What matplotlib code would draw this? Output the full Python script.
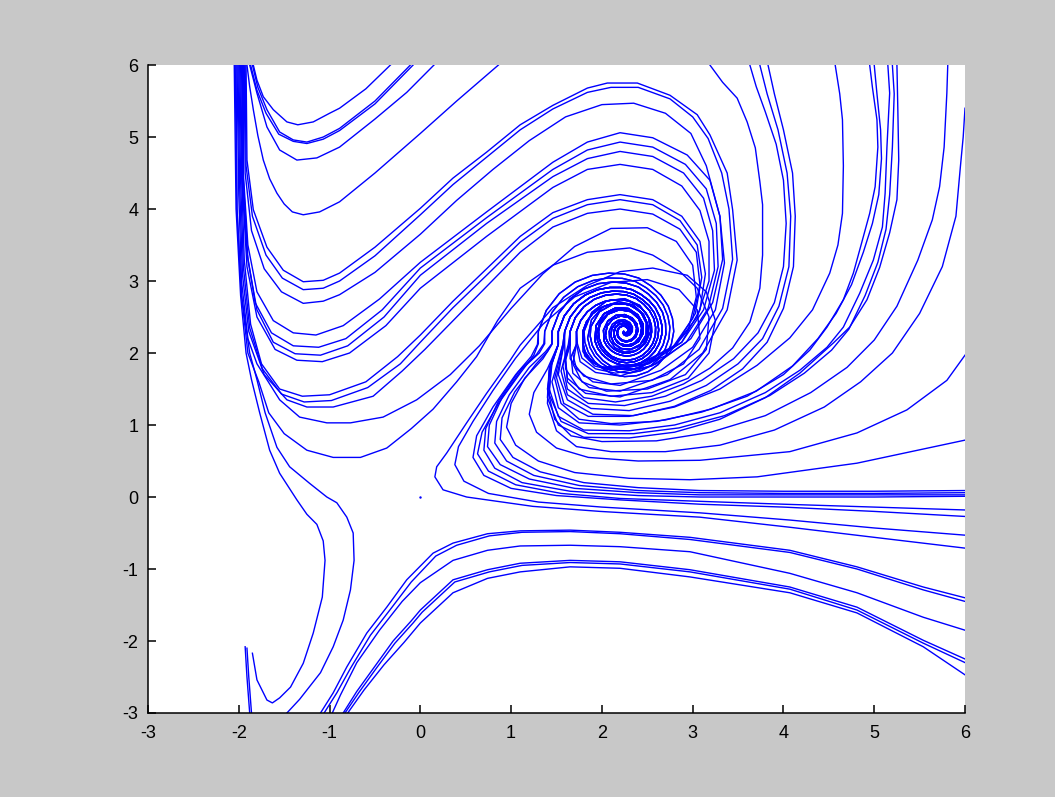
import numpy as np
import matplotlib.pyplot as plt

plt.rcParams['axes.unicode_minus'] = False

# ---- inner part of the spiral (focus near (2.25, 2.3)), read as radius vs angle ----
spiral_center = (2.25, 2.3)
screen_aspect = 90.8 / 72          # pixels per y unit vs x unit in the figure
spiral_angles = [180,165,150,135,120,105,90,75,60,45,30,15,0,-15,-30,-45,-60,-75,-90,-105,-120,-135,-150,-165,-180,
                 -210,-240,-270,-300,-330,-360,-390,-420,-450,-480,-510,-540,-570,-600,-630,-660,-690,-720,-750,-780,-810,-840,-870]
spiral_shape = [1.0,.94,.875,.81,.75,.70,.665,.64,.61,.595,.585,.575,.57,.562,.555,.547,.54,.532,.524,.515,.50,.492,.485,.478,.47,
                .44,.41,.38,.35,.32,.3,.28,.26,.24,.22,.2,.18,.165,.15,.135,.12,.105,.09,.075,.06,.045,.03,.015]
# join radius on the left side of the spiral -> twist of the inner turns (degrees)
spiral_twist = {0.95: 0, 0.88: 20, 0.80: -15, 0.73: 35, 0.66: 10, 0.60: -30, 0.53: 50, 0.46: 25}

# curves that come down the band at x~-2, dip, and leave through the top edge
top_exit = [
    [(-1.84,6.0),(-1.8,5.79),(-1.73,5.56),(-1.62,5.38),(-1.47,5.21),(-1.35,5.17),(-1.18,5.21),(-1.0,5.33),(-0.89,5.4),(-0.6,5.67),(-0.33,6.0)],
    [(-1.85,6.0),(-1.79,5.69),(-1.69,5.38),(-1.55,5.07),(-1.4,4.96),(-1.25,4.93),(-1.07,5.0),(-0.89,5.12),(-0.5,5.5),(-0.11,6.0)],
    [(-1.87,6.0),(-1.8,5.65),(-1.7,5.33),(-1.56,5.04),(-1.4,4.94),(-1.25,4.91),(-1.07,4.97),(-0.89,5.09),(-0.5,5.46),(-0.08,6.0)],
    [(-1.88,6.0),(-1.8,5.61),(-1.69,5.14),(-1.55,4.82),(-1.36,4.68),(-1.14,4.71),(-0.89,4.86),(-0.5,5.25),(-0.15,5.62),(0.15,6.0)],
    [(-1.91,6.0),(-1.88,5.7),(-1.84,5.38),(-1.79,5.02),(-1.73,4.68),(-1.66,4.42),(-1.58,4.22),(-1.5,4.07),(-1.41,3.96),(-1.29,3.92),(-1.11,3.96),(-0.89,4.1),(-0.5,4.5),(0.0,5.05),(0.4,5.5),(0.86,6.0)],
]

# curves from the band that climb into the spiral: (outer part, join radius)
left_curves = [
    ([(-1.92,6.0),(-1.91,4.68),(-1.84,3.99),(-1.69,3.47),(-1.51,3.15),(-1.29,2.99),(-1.07,3.01),(-0.89,3.11),(-0.5,3.47),(0.0,4.01),(0.36,4.43),(0.73,4.79),(1.1,5.17),(1.46,5.44),(1.84,5.68),(2.06,5.75),(2.39,5.75),(2.75,5.58),(3.05,5.31),(3.19,5.03),(3.38,4.5),(3.44,3.99),(3.49,3.29),(3.38,2.6),(3.11,2.0),(2.75,1.63),(2.2,1.39),(1.82,1.44),(1.62,1.65),(1.6,1.92),(1.65,2.12)], 0.60),
    ([(-1.93,6.0),(-1.92,4.6),(-1.85,3.9),(-1.7,3.36),(-1.52,3.04),(-1.29,2.88),(-1.07,2.9),(-0.89,3.0),(-0.5,3.35),(0.0,3.92),(0.36,4.34),(0.73,4.72),(1.1,5.1),(1.46,5.39),(1.84,5.62),(2.1,5.69),(2.4,5.69),(2.75,5.53),(3.0,5.28),(3.17,4.98),(3.32,4.5),(3.4,4.0),(3.44,3.3),(3.33,2.62),(3.07,2.05),(2.72,1.7),(2.2,1.47),(1.86,1.52),(1.68,1.72),(1.66,1.95),(1.72,2.12)], 0.53),
    ([(-1.94,6.0),(-1.93,4.5),(-1.86,3.7),(-1.72,3.17),(-1.53,2.85),(-1.29,2.69),(-1.07,2.72),(-0.89,2.81),(-0.5,3.12),(0.0,3.65),(0.4,4.12),(0.8,4.55),(1.2,4.95),(1.6,5.28),(2.0,5.45),(2.35,5.47),(2.7,5.33),(2.98,5.05),(3.15,4.6),(3.3,3.9),(3.35,3.25),(3.25,2.6),(3.0,2.08),(2.65,1.76),(2.2,1.55),(1.9,1.6),(1.72,1.78),(1.68,1.98),(1.72,2.13)], 0.53),
    ([(-1.95,6.0),(-1.95,4.5),(-1.9,3.5),(-1.8,2.85),(-1.62,2.45),(-1.4,2.28),(-1.15,2.25),(-0.85,2.38),(-0.45,2.75),(0.0,3.26),(0.73,3.96),(1.46,4.65),(1.84,4.93),(2.2,5.06),(2.56,4.99),(2.94,4.75),(3.19,4.4),(3.3,3.9),(3.33,3.3),(3.22,2.7),(2.98,2.2),(2.6,1.85),(2.2,1.68),(1.93,1.73),(1.76,1.88),(1.72,2.13)], 0.53),
    ([(-1.96,6.0),(-1.96,4.4),(-1.91,3.4),(-1.82,2.7),(-1.64,2.28),(-1.4,2.1),(-1.12,2.08),(-0.82,2.2),(-0.42,2.6),(0.0,3.18),(0.73,3.88),(1.46,4.55),(1.84,4.82),(2.2,4.93),(2.56,4.86),(2.92,4.62),(3.15,4.28),(3.26,3.8),(3.28,3.2),(3.17,2.62),(2.93,2.15),(2.55,1.82),(2.15,1.72),(1.93,1.78),(1.78,1.93),(1.73,2.13)], 0.53),
    ([(-1.97,6.0),(-1.95,4.4),(-1.9,3.3),(-1.8,2.6),(-1.62,2.15),(-1.38,1.99),(-1.1,1.97),(-0.8,2.1),(-0.4,2.5),(0.0,3.08),(0.73,3.8),(1.46,4.45),(1.84,4.7),(2.2,4.8),(2.56,4.73),(2.9,4.5),(3.12,4.15),(3.22,3.7),(3.24,3.15),(3.12,2.6),(2.88,2.15),(2.5,1.85),(2.1,1.76),(1.92,1.82),(1.81,1.96),(1.79,2.14)], 0.46),
    ([(-1.98,6.0),(-1.96,4.3),(-1.91,3.2),(-1.8,2.5),(-1.6,2.05),(-1.36,1.9),(-1.08,1.88),(-0.78,2.0),(-0.38,2.38),(0.0,2.9),(0.73,3.62),(1.46,4.3),(1.84,4.55),(2.2,4.62),(2.56,4.55),(2.88,4.32),(3.08,3.98),(3.18,3.55),(3.18,3.0),(3.05,2.5),(2.8,2.1),(2.42,1.85),(2.0,1.8),(1.86,1.9),(1.79,2.02),(1.79,2.15)], 0.46),
    ([(-1.99,6.0),(-1.97,4.5),(-1.94,3.3),(-1.87,2.4),(-1.75,1.85),(-1.55,1.5),(-1.3,1.4),(-1.0,1.42),(-0.6,1.6),(-0.25,1.95),(0.0,2.25),(0.36,2.72),(0.73,3.17),(1.1,3.62),(1.46,3.95),(1.84,4.13),(2.2,4.2),(2.56,4.13),(2.88,3.9),(3.08,3.55),(3.14,3.1),(3.08,2.6),(2.88,2.15),(2.52,1.85),(2.1,1.76),(1.92,1.85),(1.82,1.98),(1.79,2.15)], 0.46),
    ([(-2.0,6.0),(-1.98,4.4),(-1.95,3.2),(-1.88,2.35),(-1.74,1.78),(-1.53,1.43),(-1.28,1.32),(-0.98,1.34),(-0.58,1.52),(-0.22,1.85),(0.0,2.15),(0.36,2.63),(0.73,3.08),(1.1,3.54),(1.46,3.87),(1.84,4.06),(2.2,4.13),(2.56,4.06),(2.86,3.84),(3.05,3.5),(3.1,3.05),(3.03,2.55),(2.82,2.12),(2.45,1.84),(2.05,1.78),(1.9,1.87),(1.82,2.0),(1.79,2.15)], 0.46),
    ([(-2.01,6.0),(-1.99,4.3),(-1.96,3.1),(-1.89,2.3),(-1.72,1.7),(-1.47,1.35),(-1.25,1.25),(-0.96,1.25),(-0.52,1.4),(-0.2,1.75),(0.05,2.05),(0.4,2.5),(0.75,2.95),(1.1,3.4),(1.46,3.75),(1.84,3.94),(2.2,4.0),(2.56,3.93),(2.86,3.72),(3.04,3.4),(3.08,2.95),(3.0,2.48),(2.78,2.08),(2.4,1.83),(2.0,1.8),(1.88,1.9),(1.81,2.02),(1.79,2.15)], 0.46),
    ([(-2.02,6.0),(-2.0,4.2),(-1.97,3.0),(-1.9,2.2),(-1.8,1.85),(-1.69,1.63),(-1.55,1.35),(-1.33,1.11),(-1.03,1.03),(-0.77,1.03),(-0.41,1.11),(-0.04,1.35),(0.33,1.7),(0.65,2.1),(1.0,2.62),(1.35,3.1),(1.7,3.48),(2.1,3.73),(2.5,3.74),(2.82,3.55),(3.0,3.22),(3.04,2.78),(2.95,2.32),(2.72,1.97),(2.36,1.78),(2.0,1.8),(1.87,1.92),(1.8,2.05),(1.79,2.15)], 0.46),
    ([(-2.03,6.0),(-2.02,4.0),(-1.97,2.8),(-1.9,2.0),(-1.78,1.6),(-1.67,1.17),(-1.5,0.88),(-1.25,0.65),(-0.96,0.55),(-0.66,0.55),(-0.37,0.68),(-0.1,0.95),(0.14,1.22),(0.4,1.6),(0.62,1.95),(0.85,2.45),(1.1,2.9),(1.46,3.22),(1.84,3.4),(2.31,3.46),(2.56,3.36),(2.86,3.13),(3.05,2.9),(3.18,2.5),(3.15,2.05),(2.92,1.7),(2.5,1.5),(2.05,1.47),(1.78,1.6),(1.68,1.85),(1.72,2.12)], 0.53),
]

# curves that enter from the top/right edge and sweep down into the spiral
right_curves = [
    ([(3.19,6.0),(3.33,5.76),(3.49,5.54),(3.6,5.21),(3.69,4.85),(3.74,4.38),(3.77,4.06),(3.77,3.36),(3.74,2.9),(3.63,2.43),(3.44,2.07),(3.19,1.79),(2.9,1.57),(2.55,1.4),(2.15,1.32),(1.8,1.38),(1.62,1.6),(1.6,1.9),(1.65,2.12)], 0.60),
    ([(3.63,6.0),(3.7,5.7),(3.8,5.35),(3.92,4.9),(4.0,4.4),(4.03,3.8),(4.0,3.2),(3.9,2.7),(3.72,2.28),(3.45,1.92),(3.1,1.62),(2.7,1.4),(2.25,1.27),(1.85,1.3),(1.62,1.5),(1.57,1.82),(1.64,2.12)], 0.60),
    ([(3.74,6.0),(3.82,5.6),(3.94,5.1),(4.04,4.5),(4.08,3.9),(4.06,3.2),(3.95,2.65),(3.77,2.2),(3.5,1.85),(3.15,1.55),(2.75,1.33),(2.3,1.2),(1.88,1.23),(1.62,1.42),(1.55,1.75),(1.63,2.12)], 0.60),
    ([(3.83,6.0),(3.9,5.6),(4.0,5.1),(4.1,4.5),(4.13,3.9),(4.11,3.2),(4.0,2.62),(3.82,2.15),(3.55,1.78),(3.2,1.48),(2.8,1.26),(2.35,1.13),(1.9,1.15),(1.62,1.35),(1.52,1.7),(1.58,2.12)], 0.66),
    ([(4.57,6.0),(4.62,5.6),(4.65,5.24),(4.66,4.6),(4.65,3.94),(4.6,3.5),(4.51,3.11),(4.32,2.6),(4.07,2.21),(3.71,1.83),(3.3,1.5),(2.8,1.25),(2.3,1.12),(1.85,1.12),(1.58,1.3),(1.5,1.66),(1.58,2.12)], 0.66),
    ([(4.95,6.0),(4.98,5.69),(5.03,5.24),(5.04,4.86),(5.01,4.31),(4.95,3.94),(4.87,3.57),(4.77,3.11),(4.66,2.74),(4.48,2.36),(4.29,2.04),(4.0,1.7),(3.6,1.4),(3.1,1.18),(2.6,1.05),(2.1,1.02),(1.75,1.08),(1.55,1.3),(1.48,1.65),(1.57,2.12)], 0.66),
    ([(5.0,6.0),(5.03,5.6),(5.07,5.1),(5.08,4.7),(5.05,4.2),(4.98,3.8),(4.88,3.4),(4.75,2.95),(4.58,2.55),(4.38,2.2),(4.1,1.82),(3.7,1.47),(3.2,1.22),(2.7,1.07),(2.2,1.0),(1.75,1.03),(1.52,1.24),(1.45,1.6),(1.57,2.12)], 0.66),
    ([(5.15,6.0),(5.17,5.61),(5.14,4.86),(5.12,4.22),(5.09,3.75),(4.99,3.29),(4.84,2.83),(4.66,2.36),(4.48,2.08),(4.18,1.76),(3.8,1.45),(3.3,1.17),(2.8,1.0),(2.3,0.92),(1.8,0.93),(1.52,1.12),(1.42,1.5),(1.45,1.85),(1.52,2.12)], 0.73),
    ([(5.2,6.0),(5.22,5.6),(5.2,4.86),(5.17,4.2),(5.13,3.72),(5.04,3.26),(4.9,2.8),(4.72,2.33),(4.53,2.04),(4.23,1.72),(3.85,1.41),(3.35,1.13),(2.85,0.96),(2.35,0.88),(1.85,0.88),(1.55,1.05),(1.42,1.42),(1.44,1.82),(1.52,2.12)], 0.73),
    ([(5.25,6.0),(5.26,5.38),(5.27,4.68),(5.25,4.13),(5.17,3.67),(5.06,3.19),(4.92,2.74),(4.73,2.36),(4.55,2.14),(4.18,1.72),(3.8,1.38),(3.3,1.08),(2.8,0.9),(2.3,0.82),(1.8,0.83),(1.52,1.0),(1.4,1.38),(1.42,1.8),(1.52,2.12)], 0.73),
    ([(5.81,6.0),(5.8,5.61),(5.77,4.86),(5.72,4.31),(5.64,3.85),(5.48,3.29),(5.25,2.65),(5.0,2.18),(4.7,1.8),(4.3,1.45),(3.8,1.13),(3.2,0.9),(2.6,0.78),(2.0,0.77),(1.66,0.85),(1.48,1.08),(1.4,1.5),(1.44,1.85),(1.52,2.12)], 0.73),
    ([(6.0,5.4),(5.98,5.0),(5.95,4.6),(5.9,3.9),(5.75,3.2),(5.5,2.55),(5.2,2.0),(4.85,1.6),(4.45,1.25),(3.9,0.93),(3.3,0.72),(2.7,0.63),(2.1,0.63),(1.72,0.7),(1.5,0.92),(1.4,1.3),(1.42,1.75),(1.52,2.12)], 0.73),
]

# curves along the x axis that turn near the saddle and run up into the spiral
axis_curves = [
    ([(6.0,-0.71),(5.0,-0.56),(4.07,-0.42),(3.08,-0.28),(1.98,-0.2),(1.24,-0.13),(0.51,0.0),(0.25,0.1),(0.16,0.28),(0.18,0.42),(0.29,0.61),(0.51,1.03),(0.73,1.44),(0.99,1.9),(1.1,2.11),(1.46,2.63),(1.84,2.94),(2.2,3.13),(2.56,3.18),(2.94,3.08),(3.15,2.85),(3.25,2.45),(3.18,2.0),(2.95,1.65),(2.55,1.45),(2.1,1.4),(1.75,1.5),(1.6,1.78),(1.59,2.12)], 0.66),
    ([(6.0,-0.53),(5.0,-0.43),(4.07,-0.32),(3.08,-0.22),(2.0,-0.14),(1.3,-0.07),(0.75,0.05),(0.48,0.22),(0.38,0.45),(0.42,0.7),(0.58,1.05),(0.8,1.48),(1.05,1.93),(1.35,2.4),(1.7,2.78),(2.1,2.98),(2.5,3.02),(2.85,2.88),(3.05,2.6),(3.08,2.2),(2.9,1.85),(2.55,1.62),(2.1,1.57),(1.8,1.68),(1.65,1.92),(1.65,2.14)], 0.60),
    ([(6.0,-0.27),(5.0,-0.2),(4.0,-0.14),(3.08,-0.1),(2.2,-0.04),(1.5,0.02),(1.0,0.12),(0.7,0.3),(0.58,0.55),(0.62,0.85),(0.8,1.25),(1.05,1.7),(1.22,1.95),(1.29,2.12)], 0.95),
    ([(6.0,-0.18),(5.0,-0.14),(4.0,-0.1),(3.08,-0.06),(2.2,-0.02),(1.55,0.05),(1.05,0.17),(0.75,0.36),(0.63,0.6),(0.68,0.9),(0.86,1.3),(1.1,1.72),(1.25,1.97),(1.3,2.13)], 0.95),
    ([(6.0,0.01),(5.0,0.0),(4.0,0.0),(3.08,0.0),(2.4,0.02),(1.65,0.08),(1.12,0.2),(0.82,0.4),(0.7,0.65),(0.72,0.95),(0.86,1.33),(1.08,1.74),(1.28,1.98),(1.36,2.13)], 0.88),
    ([(6.0,0.03),(5.0,0.03),(4.0,0.03),(3.08,0.03),(2.4,0.06),(1.7,0.12),(1.2,0.25),(0.88,0.45),(0.74,0.7),(0.76,1.0),(0.9,1.38),(1.12,1.78),(1.31,2.0),(1.37,2.13)], 0.88),
    ([(6.0,0.06),(5.0,0.05),(4.0,0.05),(3.08,0.06),(2.4,0.09),(1.75,0.16),(1.25,0.3),(0.95,0.5),(0.82,0.75),(0.84,1.05),(0.98,1.42),(1.2,1.8),(1.38,2.02),(1.45,2.13)], 0.80),
    ([(6.0,0.09),(5.0,0.08),(4.0,0.08),(3.08,0.09),(2.4,0.13),(1.8,0.2),(1.32,0.35),(1.02,0.55),(0.88,0.8),(0.9,1.1),(1.04,1.46),(1.27,1.84),(1.4,2.02),(1.45,2.13)], 0.80),
    ([(6.0,0.79),(4.81,0.47),(3.71,0.28),(2.97,0.24),(2.3,0.26),(1.7,0.34),(1.3,0.5),(1.05,0.72),(0.95,0.97),(1.0,1.3),(1.15,1.65),(1.35,1.92),(1.45,2.12)], 0.80),
    ([(6.0,1.97),(5.8,1.62),(5.36,1.21),(4.81,0.89),(4.07,0.63),(3.08,0.51),(2.4,0.5),(1.85,0.55),(1.5,0.68),(1.28,0.9),(1.2,1.15),(1.25,1.45),(1.4,1.78),(1.52,2.12)], 0.73),
]

# curves below the saddle, from the bottom edge out to the right edge
lower_curves = [
    [(-1.1,-3.0),(-0.96,-2.72),(-0.81,-2.36),(-0.59,-1.89),(-0.37,-1.53),(-0.15,-1.15),(0.14,-0.78),(0.36,-0.64),(0.74,-0.51),(1.1,-0.47),(1.65,-0.46),(2.2,-0.49),(2.97,-0.56),(4.07,-0.74),(4.81,-0.97),(5.54,-1.25),(6.0,-1.4)],
    [(-1.06,-3.0),(-0.92,-2.72),(-0.77,-2.38),(-0.55,-1.92),(-0.33,-1.56),(-0.1,-1.18),(0.17,-0.82),(0.4,-0.67),(0.76,-0.54),(1.12,-0.49),(1.65,-0.48),(2.2,-0.51),(2.97,-0.59),(4.07,-0.77),(4.81,-1.0),(5.54,-1.29),(6.0,-1.45)],
    [(-0.97,-3.0),(-0.88,-2.75),(-0.7,-2.3),(-0.45,-1.85),(-0.2,-1.45),(0.0,-1.19),(0.36,-0.88),(0.74,-0.74),(1.1,-0.68),(1.65,-0.67),(2.2,-0.69),(2.97,-0.76),(4.07,-1.06),(4.81,-1.33),(5.54,-1.67),(6.0,-1.85)],
    [(-0.85,-3.0),(-0.7,-2.7),(-0.5,-2.35),(-0.3,-2.0),(-0.1,-1.72),(0.0,-1.57),(0.36,-1.15),(0.74,-1.01),(1.1,-0.92),(1.65,-0.88),(2.2,-0.9),(2.97,-1.01),(4.07,-1.25),(4.81,-1.53),(5.54,-1.99),(6.0,-2.25)],
    [(-0.83,-3.0),(-0.68,-2.72),(-0.48,-2.37),(-0.28,-2.03),(-0.08,-1.75),(0.02,-1.6),(0.38,-1.18),(0.76,-1.04),(1.12,-0.95),(1.65,-0.91),(2.2,-0.93),(2.97,-1.04),(4.07,-1.28),(4.81,-1.57),(5.54,-2.03),(6.0,-2.3)],
    [(-0.8,-3.0),(-0.62,-2.68),(-0.4,-2.33),(-0.18,-2.02),(0.0,-1.75),(0.36,-1.33),(0.74,-1.13),(1.1,-1.04),(1.65,-0.97),(2.2,-0.99),(2.97,-1.11),(4.07,-1.33),(4.81,-1.61),(5.54,-2.08),(6.0,-2.47)],
]

# S-shaped curves and the hook at the lower left
s_curves = [
    [(-2.05,6.0),(-2.03,4.0),(-1.98,2.8),(-1.92,2.0),(-1.86,1.63),(-1.77,1.17),(-1.66,0.65),(-1.55,0.33),(-1.36,-0.04),(-1.25,-0.24),(-1.14,-0.38),(-1.07,-0.61),(-1.05,-0.88),(-1.08,-1.39),(-1.18,-1.89),(-1.29,-2.31),(-1.43,-2.64),(-1.55,-2.79),(-1.63,-2.86),(-1.69,-2.82),(-1.8,-2.54),(-1.85,-2.17)],
    [(-2.04,6.0),(-2.02,4.0),(-1.97,2.8),(-1.88,2.0),(-1.8,1.63),(-1.71,1.17),(-1.58,0.69),(-1.44,0.42),(-1.22,0.19),(-1.03,0.0),(-0.92,-0.08),(-0.81,-0.28),(-0.74,-0.5),(-0.73,-0.88),(-0.77,-1.29),(-0.85,-1.71),(-0.96,-2.08),(-1.1,-2.44),(-1.33,-2.81),(-1.47,-3.0)],
    [(-1.93,-2.08),(-1.91,-2.5),(-1.88,-3.0)],
    [(-1.91,-2.1),(-1.89,-2.5),(-1.86,-3.0)],
]

saddle = (0.0, 0.0)


def inner_spiral(r0):
    n = len(spiral_angles)
    twist = spiral_twist[r0]
    a = np.radians(np.array(spiral_angles) + twist * np.arange(n) / (n - 1))
    r = r0 * np.array(spiral_shape)
    x = spiral_center[0] + r * np.cos(a)
    y = spiral_center[1] + r * np.sin(a) * screen_aspect
    return list(zip(x, y))


fig = plt.figure(figsize=(10.55, 7.97), dpi=100, facecolor='#c8c8c8')
ax = fig.add_axes([0.1403, 0.1054, 0.7744, 0.8130])

def draw(pts):
    p = np.array(pts)
    ax.plot(p[:, 0], p[:, 1], color='#0000ff', lw=1.0, solid_joinstyle='round')

for c in top_exit:
    draw(c)
for body, r0 in left_curves + right_curves + axis_curves:
    draw(body + inner_spiral(r0))
for c in lower_curves + s_curves:
    draw(c)
ax.plot([saddle[0]], [saddle[1]], '.', color='#0000ff', ms=1.5)

ax.set_xlim(-3, 6)
ax.set_ylim(-3, 6)
ax.set_xticks(range(-3, 7))
ax.set_yticks(range(-3, 7))
for s in ['top', 'right']:
    ax.spines[s].set_visible(False)
for s in ['left', 'bottom']:
    ax.spines[s].set_linewidth(1.1)
ax.tick_params(direction='in', length=6, width=1.1, labelsize=13)
ax.tick_params(axis='x', pad=9)
ax.tick_params(axis='y', pad=7)
for lab in ax.get_xticklabels() + ax.get_yticklabels():
    lab.set_family('Liberation Sans')

fig.savefig('out.png', dpi=100, facecolor=fig.get_facecolor())
